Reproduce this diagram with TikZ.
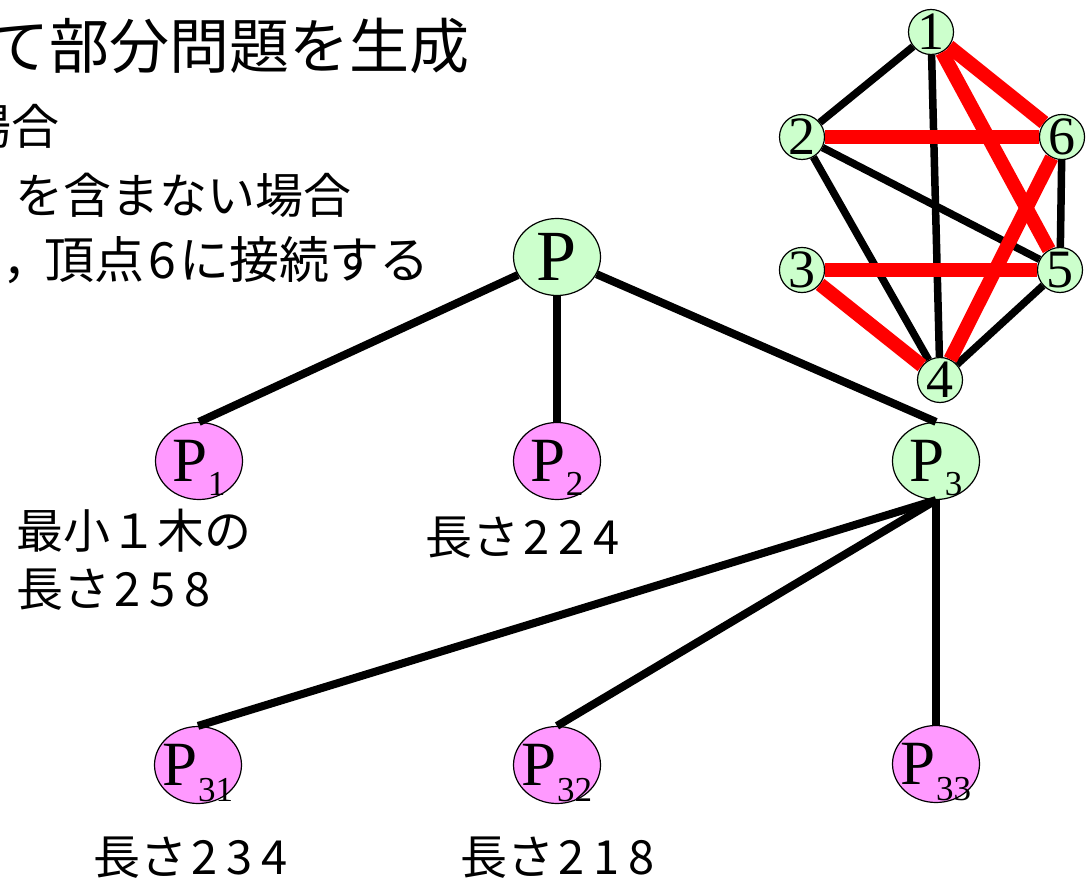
\documentclass[tikz,border=0pt]{standalone}
\usepackage{fontspec}
\newfontfamily\jp{Noto Sans CJK JP}
\newfontfamily\tm{Liberation Serif}
\usetikzlibrary{shapes.geometric}
\definecolor{lgreen}{HTML}{CCFFCC}
\definecolor{lpink}{HTML}{FF99FF}
\definecolor{ered}{HTML}{FF0000}
\newcommand\dg[1]{\makebox[0.74em]{#1}}
\newcommand\psub[2]{\makebox[0pt]{P\raisebox{-#2pt}[0pt][0pt]{\fontsize{35}{35}\selectfont #1}}}
\begin{document}
\begin{tikzpicture}[x=1pt,y=-1pt,
  jptext/.style={inner sep=0pt, font=\jp},
  title/.style={jptext, font=\jp\fontsize{60}{60}\selectfont},
  body/.style={jptext, font=\jp\fontsize{48}{48}\selectfont},
  lab/.style={jptext, font=\jp\fontsize{47}{47}\selectfont, anchor=base west},
  gnode/.style={circle, draw=black, line width=1.2pt, fill=lgreen, minimum size=45pt, inner sep=0pt, font=\tm\fontsize{54}{54}\selectfont},
  tnode/.style={ellipse, draw=black, line width=1.2pt, minimum width=87pt, minimum height=77pt, inner sep=0pt, font=\tm\fontsize{63}{63}\selectfont},
  gtree/.style={tnode, fill=lgreen},
  ptree/.style={tnode, fill=lpink},
  bedge/.style={draw=black, line width=7.5pt},
  redge/.style={draw=ered, line width=14pt},
  tedge/.style={draw=black, line width=8pt}
]
\useasboundingbox (0,0) rectangle (1086,882);
\clip (0,0) rectangle (1086,882);

% text lines
\node[title, anchor=base east] (t1) at (470,69) {て部分問題を生成};
\node[body, anchor=base east] (t2) at (60,145) {場合};
\node[body, anchor=base east] (t3) at (352,214) {を含まない場合};
\node[body, font=\jp\fontsize{50}{50}\selectfont, anchor=base west] (t4) at (2,279) {，\kern-0.15em 頂点\makebox[0.69em]{6}に接続する};

% graph nodes
\node[gnode] (g1) at (931,32) {1};
\node[gnode] (g2) at (802,137) {2};
\node[gnode] (g6) at (1062,137) {6};
\node[gnode] (g3) at (802,270) {3};
\node[gnode] (g5) at (1060,270) {5};
\node[gnode] (g4) at (940,380) {4};

\draw[bedge] (g1) -- (g2);
\draw[bedge] (g1) -- (g4);
\draw[bedge] (g2) -- (g4);
\draw[bedge] (g2) -- (g5);
\draw[bedge] (g6) -- (g5);
\draw[bedge] (g5) -- (g4);

\draw[redge] (g1) -- (g6);
\draw[redge] (g1) -- (g5);
\draw[redge] (g2) -- (g6);
\draw[redge] (g6) -- (g4);
\draw[redge] (g3) -- (g5);
\draw[redge] (g3) -- (g4);

% tree nodes
\node[gtree, font=\tm\fontsize{72}{72}\selectfont] (P) at (557,257) {P};
\node[ptree] (P1) at (199,461) {\psub{1}{14}};
\node[ptree] (P2) at (557,461) {\psub{2}{14}};
\node[gtree] (P3) at (936,461) {\psub{3}{14}};
\node[ptree] (P31) at (198,765) {\psub{31}{16}};
\node[ptree] (P32) at (557,765) {\psub{32}{16}};
\node[ptree] (P33) at (936,764) {\psub{33}{16}};

\draw[tedge] (P) -- (P1.north);
\draw[tedge] (P) -- (P2.north);
\draw[tedge] (P) -- (P3.north);
\draw[tedge] (P3.south) -- (P31.north);
\draw[tedge] (P3.south) -- (P32.north);
\draw[tedge] (P3.south) -- (P33.north);

% labels
\node[lab] (l1a) at (16,548) {最小１木の};
\node[lab] (l1b) at (16,606) {長さ\dg{2}\dg{5}\dg{8}};
\node[lab] (l2) at (425,554) {長さ\dg{2}\dg{2}\dg{4}};
\node[lab] (l31) at (93,874) {長さ\dg{2}\dg{3}\dg{4}};
\node[lab] (l32) at (460,874) {長さ\dg{2}\dg{1}\dg{8}};
\end{tikzpicture}
\end{document}
